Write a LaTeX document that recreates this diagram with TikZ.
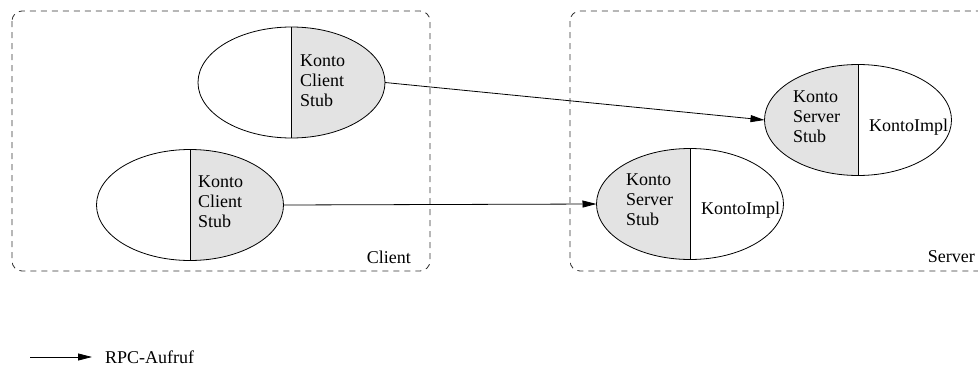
\documentclass[tikz,border=0pt]{standalone}
\usepackage{fontspec}
\setmainfont{Liberation Serif}
\usepackage{tikz}
\usetikzlibrary{shapes.geometric}
\usetikzlibrary{arrows.meta}
\definecolor{stubgray}{RGB}{227,227,227}
\definecolor{boxgray}{RGB}{50,50,50}

\begin{document}
\begin{tikzpicture}[x=1pt,y=1pt,>={Triangle[length=14pt,width=7pt]},
    font=\fontsize{18}{20}\selectfont,
    obj/.style={ellipse, draw, line width=0.8pt, inner sep=0pt, outer sep=0pt,
        minimum width=187pt, minimum height=111pt},
    clientobj/.style={obj, path picture={
        \fill[stubgray] (path picture bounding box.north) rectangle (path picture bounding box.south east);
        \draw[line width=0.8pt] (path picture bounding box.north) -- (path picture bounding box.south);}},
    serverobj/.style={obj, path picture={
        \fill[stubgray] (path picture bounding box.north west) rectangle (path picture bounding box.south);
        \draw[line width=0.8pt] (path picture bounding box.north) -- (path picture bounding box.south);}},
    txt/.style={align=left, inner sep=0pt, anchor=west},
    area/.style={draw=boxgray, line width=0.8pt, dash pattern=on 6pt off 5pt, rounded corners=10pt},
    call/.style={->, line width=0.8pt}]
    \useasboundingbox (0,0) rectangle (978,-367);
    % Rechnergrenzen
    \begin{scope}
        \clip (0,0) rectangle (978,-367);
        \draw[area] (12,-11) rectangle (430,-271);
        \draw[area] (570,-11) rectangle (995,-271);
    \end{scope}
    \node (client) [anchor=east, inner sep=0pt] at (411,-257) {Client};
    \node (server) [anchor=east, inner sep=0pt] at (975,-257) {Server};
    % Objekte
    \node (cs1) [clientobj] at (291.5,-82.5) {};
    \node (cs2) [clientobj] at (190,-205) {};
    \node (ss1) [serverobj] at (858,-120) {};
    \node (ss2) [serverobj] at (690,-204) {};
    \node (cs1t) [txt] at (300,-81) {Konto\\Client\\Stub};
    \node (cs2t) [txt] at (198,-202) {Konto\\Client\\Stub};
    \node (ss1t) [txt] at (793,-117) {Konto\\Server\\Stub};
    \node (ss1i) [txt] at (869,-127) {KontoImpl};
    \node (ss2t) [txt] at (626,-200) {Konto\\Server\\Stub};
    \node (ss2i) [txt] at (701,-210) {KontoImpl};
    % Aufrufe
    \draw[call] (cs1.east) -- (ss1.west);
    \draw[call] (cs2.east) -- (ss2.west);
    % Legende
    \coordinate (l1) at (30,-357);
    \node (rpc) [txt] at (105,-357) {RPC-Aufruf};
    \draw[call] (l1) -- ([xshift=-13pt]rpc.west);
\end{tikzpicture}
\end{document}
